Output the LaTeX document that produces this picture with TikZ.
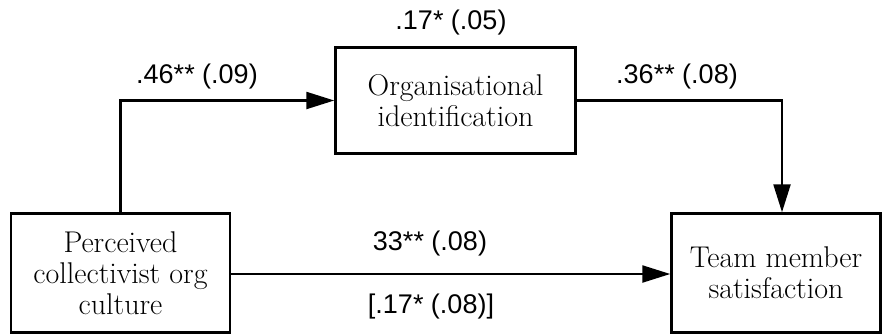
\documentclass[tikz,border=0pt]{standalone}
\usepackage{fontspec}
\newfontfamily\labfont{Liberation Sans}
\usetikzlibrary{arrows.meta}
\begin{document}
\begin{tikzpicture}[x=1pt,y=-1pt,
  boxnode/.style={draw,line width=2.5pt,inner sep=0pt,align=center,
    font=\fontsize{30}{31}\selectfont},
  lab/.style={font=\labfont\fontsize{27}{30}\selectfont,inner sep=0pt},
  conn/.style={line width=2.3pt,-{Triangle[length=28pt,width=17pt]}}]
\useasboundingbox (0,0) rectangle (882,335);
\node[boxnode,minimum width=219pt,minimum height=119pt] (pc) at (120.5,273) {Perceived\\collectivist org\\culture};
\node[boxnode,minimum width=240pt,minimum height=106pt] (oi) at (455.5,100.5) {Organisational\\identification};
\node[boxnode,minimum width=209pt,minimum height=119pt] (tm) at (776,273) {Team member\\satisfaction};
\coordinate (bend) at (782,100.5);
\draw[conn] (pc.north) |- (oi.west);
\draw[conn] (oi.east) -- (bend) -- (bend |- tm.north);
\draw[conn] (pc.east |- 0,274) -- (tm.west |- 0,274);
\node[lab] (l1) at (197,77) {.46** (.09)};
\node[lab] (l2) at (451,23) {.17* (.05)};
\node[lab] (l3) at (677,77) {.36** (.08)};
\node[lab] (l4) at (430,244) {33** (.08)};
\node[lab] (l5) at (431,307) {[.17* (.08)]};
\end{tikzpicture}
\end{document}
